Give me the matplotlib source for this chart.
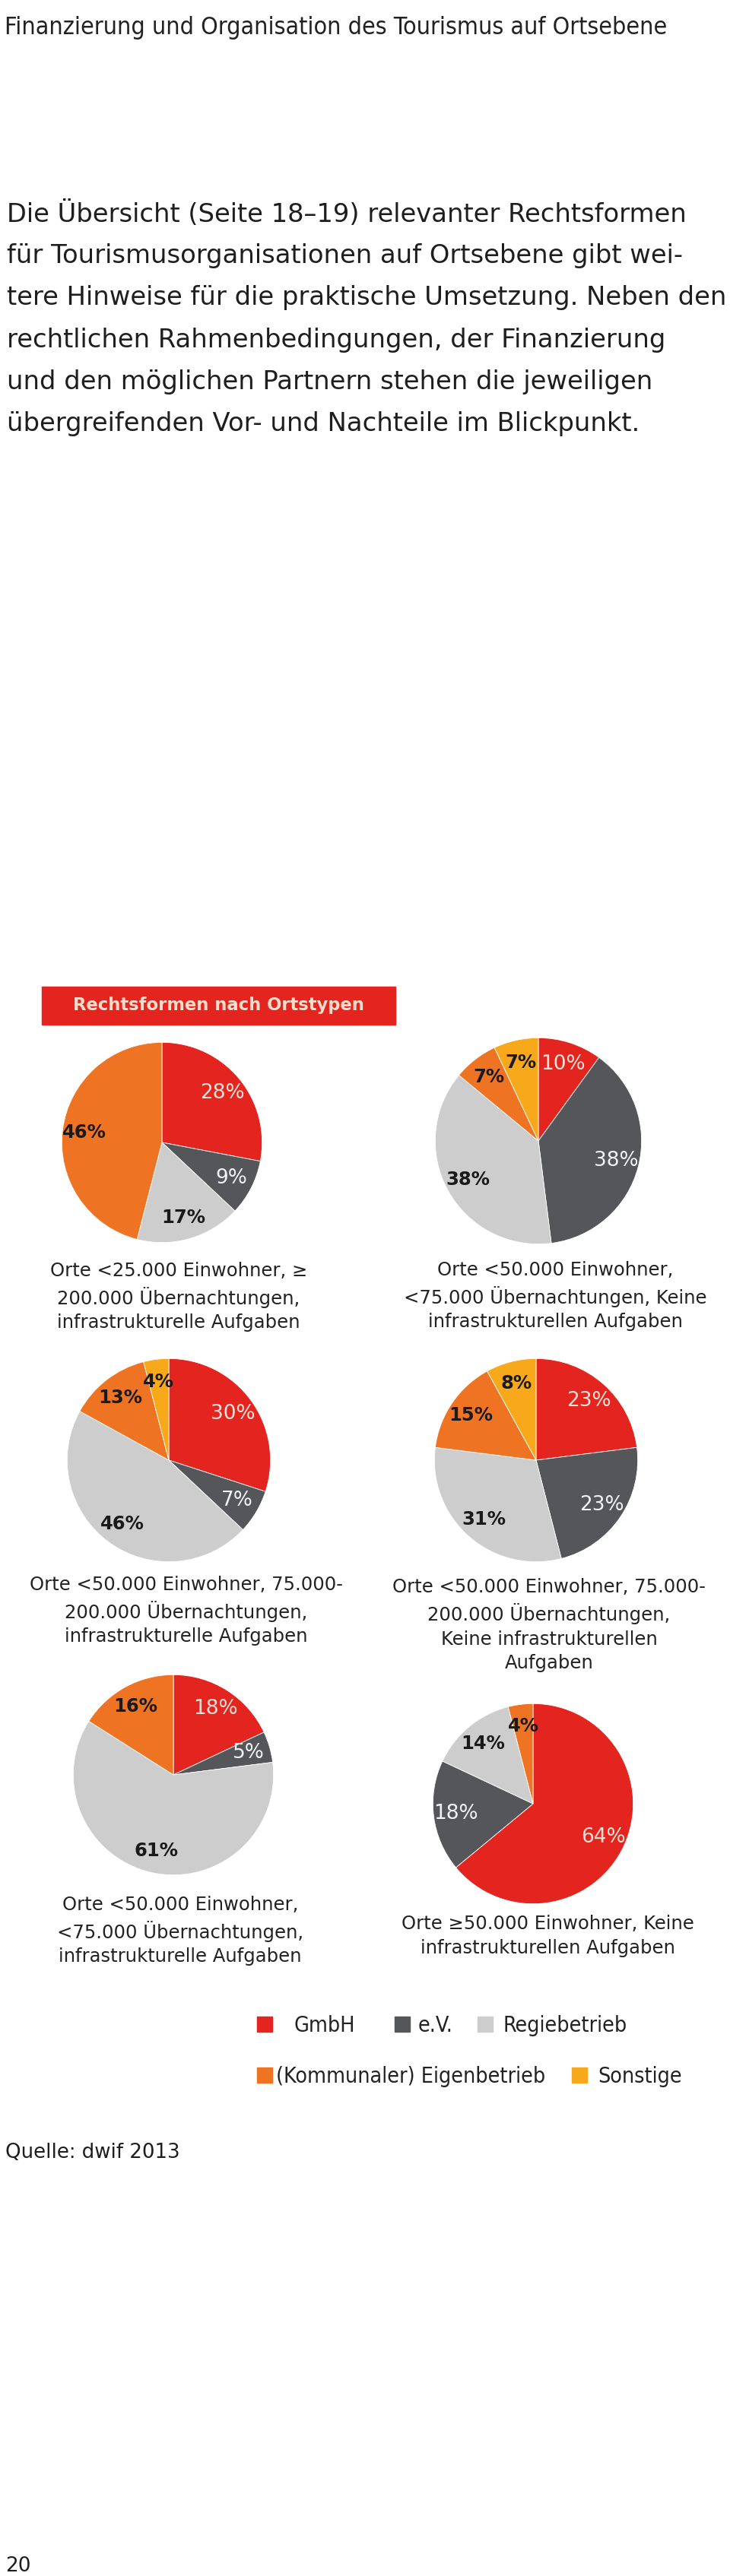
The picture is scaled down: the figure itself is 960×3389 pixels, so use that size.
import matplotlib.pyplot as plt
from matplotlib.patches import Rectangle

W, H = 960, 3389

# Kategorien und Farben
kategorien = ["GmbH", "e.V.", "Regiebetrieb", "(Kommunaler) Eigenbetrieb", "Sonstige"]
farben = ["#E3241F", "#55565A", "#CDCDCD", "#EE7423", "#F7A81B"]
textfarben = ["#FBE3D8", "#F2F2F2", "#1A1A1A", "#1A1A1A", "#1A1A1A"]

# Anteile je Ortstyp (GmbH, e.V., Regiebetrieb, Eigenbetrieb, Sonstige) in %
orte_1 = [28, 9, 17, 46, 0]
orte_2 = [10, 38, 38, 7, 7]
orte_3 = [30, 7, 46, 13, 4]
orte_4 = [23, 23, 31, 15, 8]
orte_5 = [18, 5, 61, 16, 0]
orte_6 = [64, 18, 14, 4, 0]

titel_1 = "Orte <25.000 Einwohner, ≥\n200.000 Übernachtungen,\ninfrastrukturelle Aufgaben"
titel_2 = "Orte <50.000 Einwohner,\n<75.000 Übernachtungen, Keine\ninfrastrukturellen Aufgaben"
titel_3 = "Orte <50.000 Einwohner, 75.000-\n200.000 Übernachtungen,\ninfrastrukturelle Aufgaben"
titel_4 = "Orte <50.000 Einwohner, 75.000-\n200.000 Übernachtungen,\nKeine infrastrukturellen\nAufgaben"
titel_5 = "Orte <50.000 Einwohner,\n<75.000 Übernachtungen,\ninfrastrukturelle Aufgaben"
titel_6 = "Orte ≥50.000 Einwohner, Keine\ninfrastrukturellen Aufgaben"

absatz = [
    "Die Übersicht (Seite 18–19) relevanter Rechtsformen",
    "für Tourismusorganisationen auf Ortsebene gibt wei-",
    "tere Hinweise für die praktische Umsetzung. Neben den",
    "rechtlichen Rahmenbedingungen, der Finanzierung",
    "und den möglichen Partnern stehen die jeweiligen",
    "übergreifenden Vor- und Nachteile im Blickpunkt.",
]

schmal = ["Liberation Sans Narrow", "DejaVu Sans"]

fig = plt.figure(figsize=(W / 100, H / 100), dpi=100)
ax0 = fig.add_axes([0, 0, 1, 1])
ax0.set_xlim(0, W)
ax0.set_ylim(H, 0)
ax0.axis("off")

# Kopfzeile
ax0.text(6, 45, "Finanzierung und Organisation des Tourismus auf Ortsebene",
         fontsize=23, family=schmal, fontstretch="condensed", color="#222222", va="baseline")

# Fliesstext
for i, zeile in enumerate(absatz):
    ax0.text(9, 281 + i * 55.4, zeile, fontsize=24.3, color="#1E1E1E", va="center")

# Titelbalken
ax0.add_patch(Rectangle((55, 1298), 465, 50, color="#E3241F"))
ax0.text(287, 1323, "Rechtsformen nach Ortstypen", fontsize=16.3, fontweight="bold",
         color="#FBDCCB", ha="center", va="center")


def torte(werte, cx, cy, r, titel, tx, ty):
    ax = fig.add_axes([(cx - r) / W, 1 - (cy + r) / H, 2 * r / W, 2 * r / H])
    idx = [i for i, v in enumerate(werte) if v > 0]
    vals = [werte[i] for i in idx]
    wedges, _, autotexts = ax.pie(
        vals, colors=[farben[i] for i in idx], startangle=90, counterclock=False,
        autopct="%d%%", pctdistance=0.78,
        wedgeprops=dict(edgecolor="white", linewidth=0.6),
        textprops=dict(fontsize=19))
    for t, i in zip(autotexts, idx):
        t.set_color(textfarben[i])
        if textfarben[i] == "#1A1A1A":
            t.set_fontweight("bold")
            t.set_fontsize(17.5)
    ax.set_xlim(-1.01, 1.01)
    ax.set_ylim(-1.01, 1.01)
    ax.set_aspect("equal")
    ax0.text(tx, ty, titel, fontsize=17.5, color="#222222", ha="center", va="center",
             linespacing=1.4)


torte(orte_1, 213, 1503, 133, titel_1, 235, 1706)
torte(orte_2, 708, 1501, 137, titel_2, 730, 1705)
torte(orte_3, 222, 1921, 135, titel_3, 245, 2119)
torte(orte_4, 705, 1921, 135, titel_4, 722, 2138)
torte(orte_5, 228, 2335, 133, titel_5, 237, 2540)
torte(orte_6, 701, 2373, 133, titel_6, 720, 2547)

# Legende
leg_pos = [(338, 2663, 386), (519, 2663, 550), (628, 2663, 662), (338, 2730, 363), (752, 2730, 786)]
for (sx, sy, lx), name, farbe in zip(leg_pos, kategorien, farben):
    ax0.add_patch(Rectangle((sx, sy - 10), 20, 20, color=farbe))
    ax0.text(lx, sy + 2, name, fontsize=20.5, family=schmal, fontstretch="condensed",
             color="#222222", va="center")

# Quelle und Seitenzahl
ax0.text(7, 2832, "Quelle: dwif 2013", fontsize=18.7, color="#1E1E1E", va="center")
ax0.text(7, 3376, "20", fontsize=19, color="#1E1E1E", va="center")

fig.savefig("out.png", dpi=100)
